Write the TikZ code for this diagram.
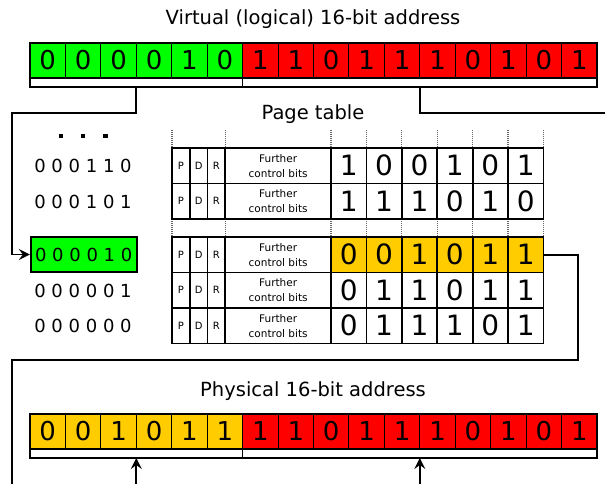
\documentclass[tikz,border=0pt]{standalone}
\usepackage{fontspec}
\setmainfont{DejaVu Sans}
\usetikzlibrary{arrows.meta}
\definecolor{bitgreen}{HTML}{00FF00}
\definecolor{bitred}{HTML}{FF0000}
\definecolor{bityellow}{HTML}{FFCC00}
\tikzset{
  barcell/.style={draw, line width=1.1pt, outer sep=0pt, minimum width=35.4375pt, minimum height=35pt, inner sep=0pt, font=\fontsize{26}{26}\selectfont},
  underbar/.style={draw, fill=white, line width=1.7pt, outer sep=0pt, minimum height=9pt, inner sep=0pt},
  tabcell/.style={draw, line width=1.8pt, outer sep=0pt, minimum height=35.5pt, inner sep=0pt},
  bitcell/.style={tabcell, minimum width=35.4pt, font=\fontsize{28}{28}\selectfont},
  flagcell/.style={tabcell, minimum width=17.77pt, font=\fontsize{10}{10}\selectfont},
  ctrlcell/.style={tabcell, minimum width=105.69pt, font=\fontsize{10.5}{15}\selectfont, align=center},
  titletext/.style={font=\fontsize{19.5}{19.5}\selectfont, anchor=base, inner sep=0pt},
  entry/.style={font=\fontsize{18}{18}\selectfont, inner sep=0pt},
  conn/.style={line width=1.7pt},
  arr/.style={conn, -{Stealth[length=11pt,width=11pt,inset=4pt]}},
  guide/.style={gray!80!black, line width=1.1pt, dash pattern=on 1pt off 1pt},
}
\begin{document}
\begin{tikzpicture}[x=1pt,y=-1pt]
\useasboundingbox (0,0) rectangle (605,484);

% titles
\node[titletext] (vt) at (313,25) {Virtual (logical) 16-bit address};
\node[titletext] (pt) at (313,120) {Page table};
\node[titletext] (ph) at (313,396) {Physical 16-bit address};

% virtual address bar
\foreach \b [count=\i] in {0,0,0,0,1,0}
  \node[barcell, fill=bitgreen] (v\i) at ({30+35.4375*(\i-0.5)},60.5) {\b};
\foreach \b [count=\i from 7] in {1,1,0,1,1,1,0,1,0,1}
  \node[barcell, fill=bitred] (v\i) at ({30+35.4375*(\i-0.5)},60.5) {\b};
\draw[line width=1.7pt] (v1.north west) rectangle (v16.south east);
\node[underbar, minimum width=212.625pt] (vpage) at (136.31,82.5) {};
\node[underbar, minimum width=354.375pt] (voff) at (419.81,82.5) {};

% physical address bar
\foreach \b [count=\i] in {0,0,1,0,1,1}
  \node[barcell, fill=bityellow] (q\i) at ({30+35.4375*(\i-0.5)},431.5) {\b};
\foreach \b [count=\i from 7] in {1,1,0,1,1,1,0,1,0,1}
  \node[barcell, fill=bitred] (q\i) at ({30+35.4375*(\i-0.5)},431.5) {\b};
\draw[line width=1.7pt] (q1.north west) rectangle (q16.south east);
\node[underbar, minimum width=212.625pt] (ppage) at (136.31,453.5) {};
\node[underbar, minimum width=354.375pt] (poff) at (419.81,453.5) {};

% left column of page numbers
\fill (58.8,133.8) rectangle +(4.5,4.5);
\fill (80.5,133.8) rectangle +(4.5,4.5);
\fill (103,133.8) rectangle +(4.5,4.5);
\node[entry] (e1) at (83,166) {0 0 0 1 1 0};
\node[entry] (e2) at (83,201.5) {0 0 0 1 0 1};
\node[entry, draw, fill=bitgreen, line width=1.7pt, minimum width=106pt, minimum height=35.5pt] (e3) at (83.7,254.5) {0 0 0 0 1 0};
\node[entry] (e4) at (83,291) {0 0 0 0 0 1};
\node[entry] (e5) at (83,326) {0 0 0 0 0 0};

% dotted guides
\foreach \x in {172,225.31,331,366.4,401.8,437.2,472.6,508,543.4} {
  \draw[guide] (\x,130) -- (\x,148);
  \draw[guide] (\x,219) -- (\x,237);
}

% page table rows
\foreach \r/\y in {1/165.75, 2/201.25, 3/254.75, 4/290.25, 5/325.75} {
  \node[flagcell] (fp\r) at (180.885,\y) {P};
  \node[flagcell] (fd\r) at (198.655,\y) {D};
  \node[flagcell] (fr\r) at (216.425,\y) {R};
  \node[ctrlcell] (c\r) at (278.155,\y) {Further\\control bits};
}
\foreach \b [count=\k] in {1,0,0,1,0,1}
  \node[bitcell] (t1\k) at ({331+35.4*(\k-0.5)},165.75) {\b};
\foreach \b [count=\k] in {1,1,1,0,1,0}
  \node[bitcell] (t2\k) at ({331+35.4*(\k-0.5)},201.25) {\b};
\foreach \b [count=\k] in {0,0,1,0,1,1}
  \node[bitcell, fill=bityellow] (t3\k) at ({331+35.4*(\k-0.5)},254.75) {\b};
\foreach \b [count=\k] in {0,1,1,0,1,1}
  \node[bitcell] (t4\k) at ({331+35.4*(\k-0.5)},290.25) {\b};
\foreach \b [count=\k] in {0,1,1,1,0,1}
  \node[bitcell] (t5\k) at ({331+35.4*(\k-0.5)},325.75) {\b};

% connectors
\coordinate (lt) at (12,113);
\coordinate (rt) at (605,113);
\coordinate (yc) at (578,360);
\coordinate (lb) at (12,360);
\coordinate (ld) at (12,484);
\coordinate (ba) at (136.31,484);
\coordinate (bb) at (419.81,484);
\draw[arr] (vpage.south) |- (lt) |- (e3.west);
\draw[conn] (voff.south) |- (rt);
\draw[conn] (t36.east) -| (yc) -- (lb) -- (ld);
\draw[arr] (ba) -- (ppage.south);
\draw[arr] (bb) -- (poff.south);
\end{tikzpicture}
\end{document}
